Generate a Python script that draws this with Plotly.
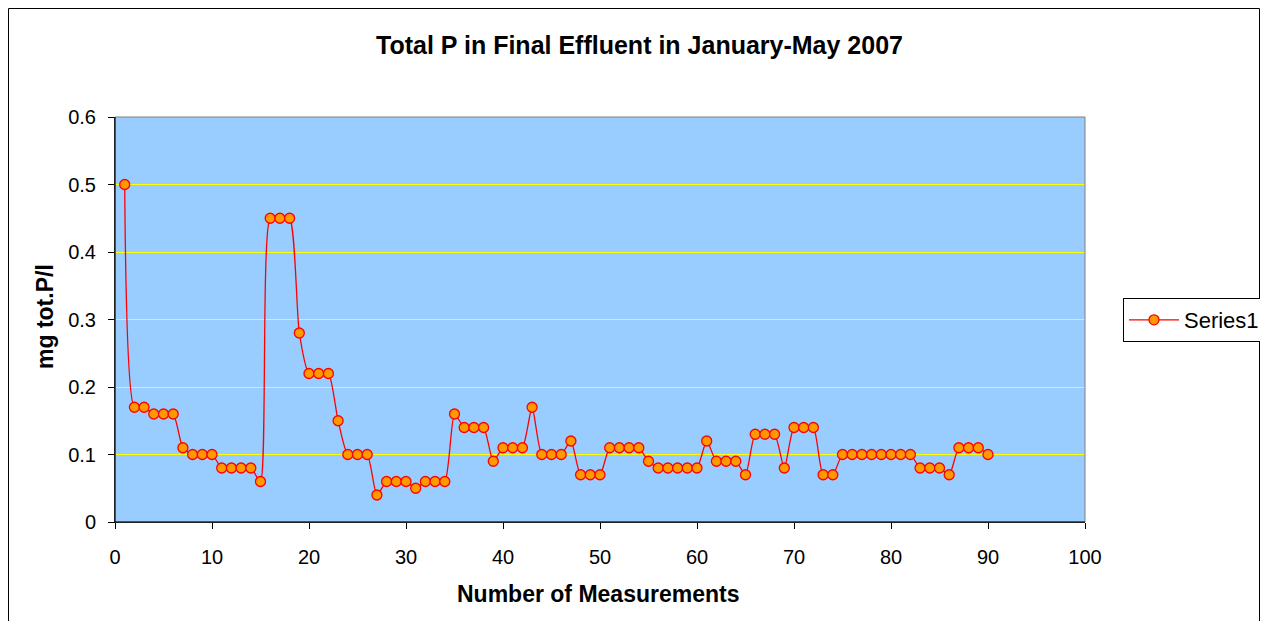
import plotly.graph_objects as go

measurements = list(range(1, 91))
total_p = [
    0.50, 0.17, 0.17, 0.16, 0.16, 0.16, 0.11, 0.10, 0.10, 0.10,
    0.08, 0.08, 0.08, 0.08, 0.06, 0.45, 0.45, 0.45, 0.28, 0.22,
    0.22, 0.22, 0.15, 0.10, 0.10, 0.10, 0.04, 0.06, 0.06, 0.06,
    0.05, 0.06, 0.06, 0.06, 0.16, 0.14, 0.14, 0.14, 0.09, 0.11,
    0.11, 0.11, 0.17, 0.10, 0.10, 0.10, 0.12, 0.07, 0.07, 0.07,
    0.11, 0.11, 0.11, 0.11, 0.09, 0.08, 0.08, 0.08, 0.08, 0.08,
    0.12, 0.09, 0.09, 0.09, 0.07, 0.13, 0.13, 0.13, 0.08, 0.14,
    0.14, 0.14, 0.07, 0.07, 0.10, 0.10, 0.10, 0.10, 0.10, 0.10,
    0.10, 0.10, 0.08, 0.08, 0.08, 0.07, 0.11, 0.11, 0.11, 0.10,
]
x_ticks = list(range(0, 101, 10))
y_ticks = [0, 0.1, 0.2, 0.3, 0.4, 0.5, 0.6]
y_tick_text = ["0", "0.1", "0.2", "0.3", "0.4", "0.5", "0.6"]

font = "Liberation Sans, Arial, sans-serif"

# figure geometry (page has an 8px body margin)
W, H = 1252, 613
L, T = 107, 109
PW, PH = 970, 405
R = W - L - PW
B = H - T - PH

def px(fx):
    return (fx - L) / PW

def py(fy):
    return (T + PH - fy) / PH

fig = go.Figure()
fig.add_trace(go.Scatter(
    x=measurements, y=total_p, name="Series1",
    mode="lines+markers",
    line=dict(color="#FF0000", width=1.3, shape="spline", smoothing=0.6),
    marker=dict(size=10, color="#FF9900", line=dict(color="#FF0000", width=1.3)),
))

fig.update_layout(
    width=W, height=H,
    margin=dict(l=L, r=R, t=T, b=B, autoexpand=False),
    paper_bgcolor="white",
    plot_bgcolor="#99CCFF",
    font=dict(family=font, size=20, color="black"),
    title=dict(text="<b>Total P in Final Effluent in January-May 2007</b>",
               x=631.5 / W, xanchor="center", xref="container",
               y=(H - 37) / H, yanchor="middle", yref="container",
               font=dict(size=25, family=font)),
    showlegend=True,
    legend=dict(x=px(1115), y=py(312), xanchor="left", yanchor="middle",
                bordercolor="#000000", borderwidth=1, bgcolor="white",
                itemwidth=50,
                font=dict(size=22, family=font)),
    xaxis=dict(range=[0, 100], tickvals=x_ticks, ticks="outside", ticklen=6,
               tickcolor="black", showline=True, linecolor="black", linewidth=1,
               showgrid=False, zeroline=False, ticklabelstandoff=11,
               tickfont=dict(size=20)),
    yaxis=dict(range=[0, 0.6], tickvals=y_ticks, ticktext=y_tick_text, ticks="outside",
               ticklen=6, tickcolor="black", showline=True, linecolor="black", linewidth=1,
               showgrid=True, gridcolor="#FFFF00", gridwidth=1, zeroline=False,
               ticklabelstandoff=8, tickfont=dict(size=20)),
    annotations=[
        dict(text="<b>Number of Measurements</b>", xref="paper", yref="paper",
             x=px(590), y=py(586), xanchor="center", yanchor="middle",
             showarrow=False, font=dict(size=23, family=font)),
        dict(text="<b>mg tot.P/l</b>", xref="paper", yref="paper",
             x=px(37), y=py(309), xanchor="center", yanchor="middle",
             textangle=-90, showarrow=False, font=dict(size=23, family=font)),
    ],
    shapes=[
        dict(type="rect", xref="paper", yref="paper", x0=0, x1=1, y0=0, y1=1,
             line=dict(color="#808080", width=1), layer="above"),
        dict(type="line", xref="paper", yref="paper", x0=0, x1=0, y0=0, y1=1,
             line=dict(color="black", width=1), layer="above"),
        dict(type="line", xref="paper", yref="paper", x0=0, x1=1, y0=0, y1=0,
             line=dict(color="black", width=1), layer="above"),
        dict(type="rect", xref="paper", yref="paper",
             x0=px(0.5), x1=px(W - 0.5), y0=py(0.5), y1=py(H + 20),
             line=dict(color="black", width=1)),
    ],
)

fig.write_html("out.html")
